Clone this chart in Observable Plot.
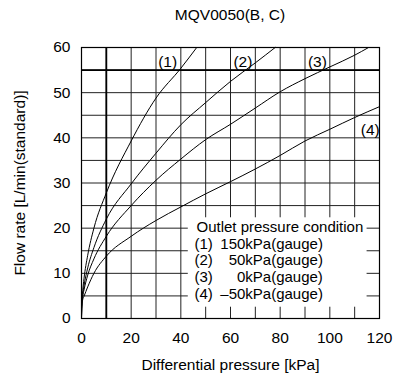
<!DOCTYPE html>
<html>
<head>
<meta charset="utf-8">
<script src="https://cdn.jsdelivr.net/npm/d3@7"></script>
<script src="https://cdn.jsdelivr.net/npm/@observablehq/plot@0.6"></script>
<style>
  html, body { margin: 0; padding: 0; background: #fff; }
  #wrap { width: 406px; font-family: "Liberation Sans", Arial, sans-serif; color: #000; }
  #title { height: 30px; line-height: 30px; font-size: 15.5px; text-align: center; padding-left: 54px; box-sizing: border-box; width: 406px; }
</style>
</head>
<body>
<div id="wrap">
  <div id="title">MQV0050(B, C)</div>
  <div id="chart"></div>
</div>
<script>
// ---- data ----
const titleText = "MQV0050(B, C)";
const xLabel = "Differential pressure [kPa]";
const yLabel = "Flow rate [L/min(standard)]";
const xTicks = [0, 20, 40, 60, 80, 100, 120];
const yTicks = [0, 10, 20, 30, 40, 50, 60];
const xGrid = [10, 20, 30, 40, 50, 60, 70, 80, 90, 100, 110];
const yGrid = [5, 10, 15, 20, 25, 30, 35, 40, 45, 50, 55];
const seriesNames = ["(1)", "(2)", "(3)", "(4)"];
const legendTitle = "Outlet pressure condition";
const legendValues = ["150kPa(gauge)", "50kPa(gauge)", "0kPa(gauge)", "\u201350kPa(gauge)"];

const curve1 = [[0,0],[0.1,2.8],[0.5,6.2],[1,8.8],[2.5,14],[5,20],[10,27.8],[20,39.3],[30,48.8],[40,55.4],[46.4,60]];
const curve2 = [[0,0],[0.1,2.6],[0.5,5.3],[1,7.2],[2.5,11.2],[5,15.7],[10,22],[20,29.8],[30,36.6],[40,42.9],[50,47.8],[60,52.5],[70,56.6],[78,60]];
const curve3 = [[0,0],[0.1,2.4],[0.5,4.9],[1,6.3],[2.5,9.6],[5,13.2],[10,18.2],[20,25],[30,30.6],[40,35.3],[50,39.6],[60,43],[70,46.6],[80,50.2],[90,53.1],[100,55.7],[110,58.3],[115.6,60]];
const curve4 = [[0,0],[0.1,2.2],[0.5,4.2],[1,4.9],[2.5,7],[5,10],[10,13.8],[20,18.2],[30,21.7],[40,24.7],[50,27.6],[60,30.3],[70,33.1],[80,36.1],[90,39.3],[100,41.9],[110,44.5],[120,46.9]];

// ---- build table ----
const curves = [curve1, curve2, curve3, curve4];
const rows = curves.flatMap((c, i) => c.map(([x, y]) => ({series: seriesNames[i], x, y})));

// label positions (data coords)
const curveLabelPos = [[34.7, 56.8], [65, 56.8], [95, 56.8], [116.3, 41.8]];
const curveLabels = seriesNames.map((s, i) => ({s, x: curveLabelPos[i][0], y: curveLabelPos[i][1]}));
const legendYs = [16.5, 12.8, 9.1, 5.4];
const legendRows = seriesNames.map((s, i) => ({s, v: legendValues[i], y: legendYs[i]}));
const box = {x1: 43, x2: 115, y1: 2.5, y2: 22.3};

const FS = "15.5px";
const LFS = "15px";
const chart = Plot.plot({
  width: 406,
  height: 349,
  marginLeft: 81,
  marginRight: 27,
  marginTop: 17,
  marginBottom: 61,
  style: {fontFamily: '"Liberation Sans", Arial, sans-serif', fontSize: FS, color: "#000", background: "#fff"},
  x: {domain: [0, 120]},
  y: {domain: [0, 60]},
  marks: [
    Plot.gridX(xGrid, {stroke: "#222", strokeOpacity: 1, strokeWidth: 1}),
    Plot.gridY(yGrid, {stroke: "#222", strokeOpacity: 1, strokeWidth: 1}),
    Plot.ruleX([10], {stroke: "#000", strokeWidth: 1.8}),
    Plot.ruleY([55], {stroke: "#000", strokeWidth: 1.8}),
    Plot.rect([box], {x1: "x1", x2: "x2", y1: "y1", y2: "y2", fill: "#fff"}),
    Plot.frame({stroke: "#000", strokeWidth: 1.2}),
    Plot.line(rows, {x: "x", y: "y", z: "series", stroke: "#000", strokeWidth: 1, curve: "monotone-x"}),
    Plot.text(curveLabels, {x: "x", y: "y", text: "s", fontSize: FS, fill: "#000"}),
    Plot.text([legendTitle], {x: 46.3, y: 20.2, text: d => d, textAnchor: "start", fontSize: LFS, fill: "#000"}),
    Plot.text(legendRows, {x: 45.5, y: "y", text: "s", textAnchor: "start", fontSize: LFS, fill: "#000"}),
    Plot.text(legendRows, {x: 97.2, y: "y", text: "v", textAnchor: "end", fontSize: LFS, fill: "#000"}),
    Plot.axisX(xTicks, {tickSize: 0, tickPadding: 13, label: null, fontSize: FS}),
    Plot.axisY(yTicks, {tickSize: 0, tickPadding: 11, label: null, fontSize: FS}),
    Plot.text([xLabel], {frameAnchor: "bottom", dy: 47, text: d => d, textAnchor: "middle", lineAnchor: "middle", fontSize: FS, fill: "#000"}),
    Plot.text([yLabel], {frameAnchor: "left", dx: -61, rotate: -90, text: d => d, textAnchor: "middle", lineAnchor: "middle", fontSize: FS, fill: "#000"})
  ]
});
document.getElementById("chart").appendChild(chart);
</script>
</body>
</html>
